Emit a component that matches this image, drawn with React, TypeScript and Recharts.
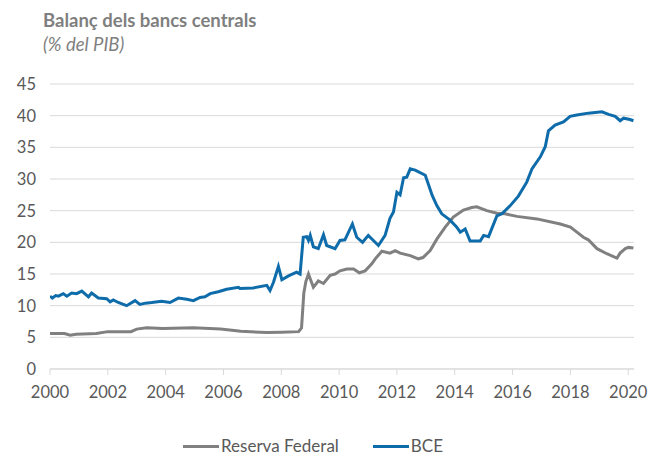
import React from "react";
import { LineChart, Line, XAxis, YAxis, CartesianGrid } from "recharts";

const xTicks = [2000, 2002, 2004, 2006, 2008, 2010, 2012, 2014, 2016, 2018, 2020];
const yTicks = [0, 5, 10, 15, 20, 25, 30, 35, 40, 45];

const fedYears = [
  2000.0, 2000.5, 2000.7, 2000.9, 2001.6, 2002.0, 2002.8, 2003.0, 2003.35, 2003.9,
  2004.96, 2005.9, 2006.6, 2007.5, 2008.0, 2008.6, 2008.7, 2008.78, 2008.85, 2008.94,
  2009.11, 2009.28, 2009.46, 2009.69, 2009.86, 2010.03, 2010.27, 2010.5, 2010.7, 2010.9,
  2011.13, 2011.25, 2011.48, 2011.76, 2011.94, 2012.11, 2012.46, 2012.74, 2012.9, 2013.15,
  2013.38, 2013.67, 2013.95, 2014.3, 2014.59, 2014.76, 2015.11, 2015.46, 2015.74, 2016.15,
  2016.84, 2017.65, 2018.0, 2018.17, 2018.45, 2018.62, 2018.92, 2019.26, 2019.61, 2019.72,
  2019.9, 2020.01, 2020.18,
];
const fedValues = [
  5.6, 5.6, 5.35, 5.5, 5.6, 5.9, 5.9, 6.3, 6.5, 6.4,
  6.5, 6.3, 5.95, 5.75, 5.8, 5.9, 6.5, 12.0, 13.8, 15.0,
  12.9, 13.9, 13.5, 14.8, 15.0, 15.5, 15.8, 15.8, 15.2, 15.5,
  16.6, 17.4, 18.6, 18.3, 18.7, 18.3, 17.9, 17.4, 17.6, 18.7,
  20.5, 22.4, 24.0, 25.1, 25.5, 25.6, 25.0, 24.6, 24.5, 24.1,
  23.7, 22.9, 22.4, 21.8, 20.8, 20.4, 19.0, 18.2, 17.5, 18.3,
  19.0, 19.2, 19.1,
];

const ecbYears = [
  2000.0, 2000.08, 2000.2, 2000.29, 2000.46, 2000.58, 2000.75, 2000.92, 2001.1, 2001.33,
  2001.44, 2001.67, 2001.96, 2002.08, 2002.19, 2002.36, 2002.65, 2002.94, 2003.11, 2003.3,
  2003.52, 2003.86, 2004.15, 2004.44, 2004.73, 2004.96, 2005.19, 2005.36, 2005.54, 2005.82,
  2006.11, 2006.52, 2006.57, 2007.03, 2007.5, 2007.61, 2007.73, 2007.9, 2008.02, 2008.25,
  2008.53, 2008.65, 2008.76, 2008.88, 2008.94, 2009.0, 2009.11, 2009.28, 2009.46, 2009.57,
  2009.86, 2010.03, 2010.2, 2010.46, 2010.61, 2010.81, 2011.01, 2011.36, 2011.59, 2011.76,
  2011.88, 2012.0, 2012.11, 2012.23, 2012.34, 2012.46, 2012.63, 2012.98, 2013.1, 2013.22,
  2013.38, 2013.55, 2013.84, 2014.07, 2014.19, 2014.36, 2014.53, 2014.88, 2015.0, 2015.17,
  2015.46, 2015.63, 2015.92, 2016.2, 2016.49, 2016.67, 2016.96, 2017.13, 2017.24, 2017.47,
  2017.76, 2017.99, 2018.22, 2018.62, 2019.09, 2019.32, 2019.55, 2019.72, 2019.84, 2020.06,
  2020.18,
];
const ecbValues = [
  11.5, 11.2, 11.6, 11.5, 11.9, 11.5, 12.0, 11.9, 12.3, 11.4,
  12.0, 11.2, 11.1, 10.6, 10.9, 10.5, 10.0, 10.8, 10.2, 10.4,
  10.5, 10.7, 10.5, 11.2, 11.0, 10.8, 11.3, 11.4, 11.9, 12.2,
  12.6, 12.9, 12.7, 12.8, 13.2, 12.4, 13.7, 16.2, 14.1, 14.7,
  15.3, 15.0, 20.8, 20.9, 20.3, 21.1, 19.3, 19.0, 21.2, 19.5,
  19.0, 20.3, 20.4, 22.9, 20.8, 20.0, 21.1, 19.5, 21.1, 23.8,
  24.8, 27.9, 27.5, 30.2, 30.3, 31.6, 31.4, 30.6, 29.0, 27.4,
  25.8, 24.5, 23.5, 22.4, 21.6, 22.1, 20.2, 20.2, 21.1, 20.9,
  24.2, 24.5, 25.8, 27.3, 29.5, 31.6, 33.5, 35.1, 37.6, 38.5,
  39.0, 39.9, 40.1, 40.4, 40.6, 40.2, 39.9, 39.2, 39.6, 39.4,
  39.2,
];

const fedData = fedYears.map((t, i) => ({ t, v: fedValues[i] }));
const ecbData = ecbYears.map((t, i) => ({ t, v: ecbValues[i] }));

const FED_COLOR = "#808080";
const ECB_COLOR = "#0f6cab";
const TEXT = "#595959";
const FONT = "Lato, 'Open Sans', sans-serif";

export default function App() {
  return (
    <div style={{ position: "relative", width: 648, height: 448, fontFamily: FONT }}>
      <div
        style={{
          position: "absolute",
          left: 35,
          top: 3,
          fontSize: 18.5,
          lineHeight: 1,
          fontWeight: 700,
          color: "#7f7f7f",
          whiteSpace: "nowrap",
        }}
      >
        Balanç dels bancs centrals
      </div>
      <div
        style={{
          position: "absolute",
          left: 35,
          top: 27,
          fontSize: 18.5,
          lineHeight: 1,
          fontStyle: "italic",
          color: "#7f7f7f",
          whiteSpace: "nowrap",
        }}
      >
        (% del PIB)
      </div>
      <LineChart
        width={648}
        height={420}
        margin={{ top: 76, right: 22, bottom: 29, left: 0 }}
        style={{ position: "absolute", left: 0, top: 0 }}
      >
        <CartesianGrid vertical={false} stroke="#d9d9d9" strokeWidth={1} />
        <XAxis
          type="number"
          dataKey="t"
          domain={[2000, 2020.2]}
          ticks={xTicks}
          allowDataOverflow
          height={30}
          axisLine={{ stroke: "#d9d9d9" }}
          tickLine={{ stroke: "#d9d9d9" }}
          tickSize={6}
          tickMargin={11}
          tick={{ fill: TEXT, fontSize: 16.5, fontFamily: FONT }}
        />
        <YAxis
          type="number"
          domain={[0, 45]}
          ticks={yTicks}
          width={42}
          axisLine={false}
          tickLine={false}
          tickSize={6}
          tickMargin={8}
          tick={{ fill: TEXT, fontSize: 16.5, fontFamily: FONT }}
        />
        <Line
          data={fedData}
          dataKey="v"
          name="Reserva Federal"
          stroke={FED_COLOR}
          strokeWidth={3}
          dot={false}
          isAnimationActive={false}
        />
        <Line
          data={ecbData}
          dataKey="v"
          name="BCE"
          stroke={ECB_COLOR}
          strokeWidth={3}
          dot={false}
          isAnimationActive={false}
        />
      </LineChart>
      <div
        style={{
          position: "absolute",
          left: 175,
          top: 428,
          height: 20,
          display: "flex",
          alignItems: "center",
          fontSize: 17,
          lineHeight: "20px",
          color: TEXT,
          whiteSpace: "nowrap",
        }}
      >
        <span style={{ display: "inline-block", width: 36, height: 3, background: FED_COLOR, marginRight: 2 }} />
        <span>Reserva Federal</span>
        <span style={{ display: "inline-block", width: 36, height: 3, background: ECB_COLOR, marginLeft: 34, marginRight: 2 }} />
        <span>BCE</span>
      </div>
    </div>
  );
}
